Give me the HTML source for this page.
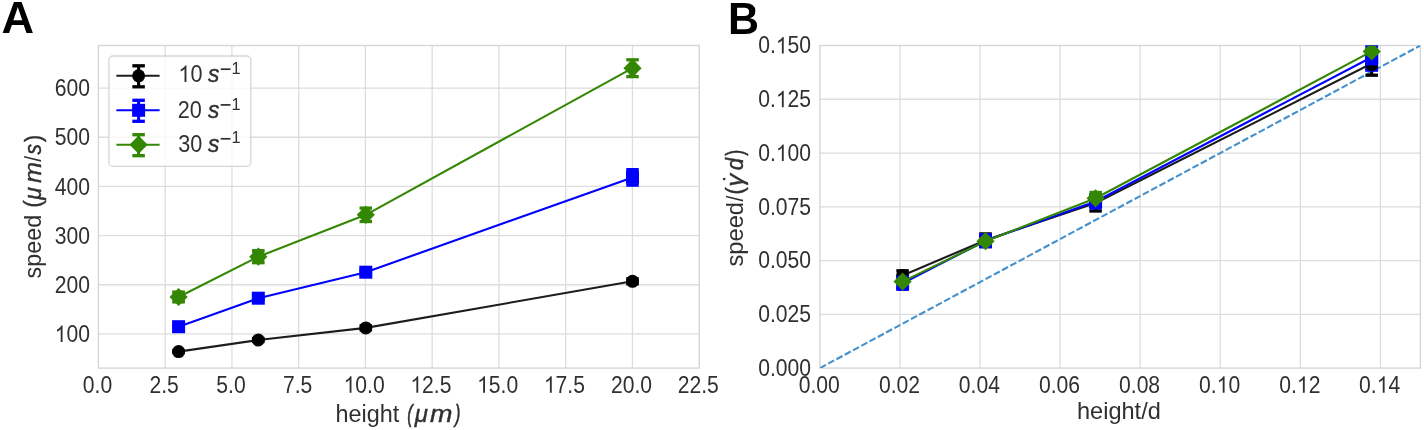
<!DOCTYPE html>
<html><head><meta charset="utf-8"><title>Figure</title>
<style>
html,body{margin:0;padding:0;background:#fff;}
body{width:1424px;height:430px;overflow:hidden;}
svg{display:block;font-family:"Liberation Sans",sans-serif;will-change:transform;}
</style></head><body>
<svg width="1424" height="430" viewBox="0 0 1424 430">
<rect width="1424" height="430" fill="#fff"/>
<defs><clipPath id="cb"><rect x="819.90" y="45.50" width="600.50" height="322.60"/></clipPath>
<clipPath id="ca"><rect x="98.40" y="45.50" width="600.80" height="322.60"/></clipPath></defs>
<line x1="165.16" y1="45.50" x2="165.16" y2="368.10" stroke="#dddddd" stroke-width="1.30" />
<line x1="231.91" y1="45.50" x2="231.91" y2="368.10" stroke="#dddddd" stroke-width="1.30" />
<line x1="298.67" y1="45.50" x2="298.67" y2="368.10" stroke="#dddddd" stroke-width="1.30" />
<line x1="365.42" y1="45.50" x2="365.42" y2="368.10" stroke="#dddddd" stroke-width="1.30" />
<line x1="432.18" y1="45.50" x2="432.18" y2="368.10" stroke="#dddddd" stroke-width="1.30" />
<line x1="498.93" y1="45.50" x2="498.93" y2="368.10" stroke="#dddddd" stroke-width="1.30" />
<line x1="565.69" y1="45.50" x2="565.69" y2="368.10" stroke="#dddddd" stroke-width="1.30" />
<line x1="632.44" y1="45.50" x2="632.44" y2="368.10" stroke="#dddddd" stroke-width="1.30" />
<line x1="98.40" y1="333.90" x2="699.20" y2="333.90" stroke="#dddddd" stroke-width="1.30" />
<line x1="98.40" y1="284.74" x2="699.20" y2="284.74" stroke="#dddddd" stroke-width="1.30" />
<line x1="98.40" y1="235.58" x2="699.20" y2="235.58" stroke="#dddddd" stroke-width="1.30" />
<line x1="98.40" y1="186.42" x2="699.20" y2="186.42" stroke="#dddddd" stroke-width="1.30" />
<line x1="98.40" y1="137.26" x2="699.20" y2="137.26" stroke="#dddddd" stroke-width="1.30" />
<line x1="98.40" y1="88.10" x2="699.20" y2="88.10" stroke="#dddddd" stroke-width="1.30" />
<rect x="98.40" y="45.50" width="600.80" height="322.60" fill="none" stroke="#d6d6d6" stroke-width="1.4"/>
<line x1="899.97" y1="45.50" x2="899.97" y2="368.10" stroke="#dddddd" stroke-width="1.30" />
<line x1="980.03" y1="45.50" x2="980.03" y2="368.10" stroke="#dddddd" stroke-width="1.30" />
<line x1="1060.10" y1="45.50" x2="1060.10" y2="368.10" stroke="#dddddd" stroke-width="1.30" />
<line x1="1140.17" y1="45.50" x2="1140.17" y2="368.10" stroke="#dddddd" stroke-width="1.30" />
<line x1="1220.23" y1="45.50" x2="1220.23" y2="368.10" stroke="#dddddd" stroke-width="1.30" />
<line x1="1300.30" y1="45.50" x2="1300.30" y2="368.10" stroke="#dddddd" stroke-width="1.30" />
<line x1="1380.37" y1="45.50" x2="1380.37" y2="368.10" stroke="#dddddd" stroke-width="1.30" />
<line x1="819.90" y1="314.33" x2="1420.40" y2="314.33" stroke="#dddddd" stroke-width="1.30" />
<line x1="819.90" y1="260.57" x2="1420.40" y2="260.57" stroke="#dddddd" stroke-width="1.30" />
<line x1="819.90" y1="206.80" x2="1420.40" y2="206.80" stroke="#dddddd" stroke-width="1.30" />
<line x1="819.90" y1="153.03" x2="1420.40" y2="153.03" stroke="#dddddd" stroke-width="1.30" />
<line x1="819.90" y1="99.27" x2="1420.40" y2="99.27" stroke="#dddddd" stroke-width="1.30" />
<rect x="819.90" y="45.50" width="600.50" height="322.60" fill="none" stroke="#d6d6d6" stroke-width="1.4"/>
<g transform="translate(82.82,392.70) scale(0.8800,1)" font-size="24.00px" fill="#303030">
<text x="0.00" y="0">0.0</text>
</g>
<g transform="translate(149.47,392.70) scale(0.8800,1)" font-size="24.00px" fill="#303030">
<text x="0.00" y="0">2.5</text>
</g>
<g transform="translate(216.33,392.70) scale(0.8800,1)" font-size="24.00px" fill="#303030">
<text x="0.00" y="0">5.0</text>
</g>
<g transform="translate(282.98,392.70) scale(0.8800,1)" font-size="24.00px" fill="#303030">
<text x="0.00" y="0">7.5</text>
</g>
<g transform="translate(343.61,392.70) scale(0.8800,1)" font-size="24.00px" fill="#303030">
<path transform="translate(0.00,0) scale(0.01172,-0.01120)" d="M763 0H583V1147Q518 1085 412.5 1023T223 930V1104Q375 1175.5 489 1277T650 1474H763Z"/>
<text x="13.35" y="0">0.0</text>
</g>
<g transform="translate(410.37,392.70) scale(0.8800,1)" font-size="24.00px" fill="#303030">
<path transform="translate(0.00,0) scale(0.01172,-0.01120)" d="M763 0H583V1147Q518 1085 412.5 1023T223 930V1104Q375 1175.5 489 1277T650 1474H763Z"/>
<text x="13.35" y="0">2.5</text>
</g>
<g transform="translate(477.12,392.70) scale(0.8800,1)" font-size="24.00px" fill="#303030">
<path transform="translate(0.00,0) scale(0.01172,-0.01120)" d="M763 0H583V1147Q518 1085 412.5 1023T223 930V1104Q375 1175.5 489 1277T650 1474H763Z"/>
<text x="13.35" y="0">5.0</text>
</g>
<g transform="translate(543.88,392.70) scale(0.8800,1)" font-size="24.00px" fill="#303030">
<path transform="translate(0.00,0) scale(0.01172,-0.01120)" d="M763 0H583V1147Q518 1085 412.5 1023T223 930V1104Q375 1175.5 489 1277T650 1474H763Z"/>
<text x="13.35" y="0">7.5</text>
</g>
<g transform="translate(610.90,392.70) scale(0.8800,1)" font-size="24.00px" fill="#303030">
<text x="0.00" y="0">20.0</text>
</g>
<g transform="translate(677.66,392.70) scale(0.8800,1)" font-size="24.00px" fill="#303030">
<text x="0.00" y="0">22.5</text>
</g>
<g transform="translate(54.68,342.10) scale(0.8800,1)" font-size="24.00px" fill="#303030">
<path transform="translate(0.00,0) scale(0.01172,-0.01120)" d="M763 0H583V1147Q518 1085 412.5 1023T223 930V1104Q375 1175.5 489 1277T650 1474H763Z"/>
<text x="13.35" y="0">00</text>
</g>
<g transform="translate(54.68,292.94) scale(0.8800,1)" font-size="24.00px" fill="#303030">
<text x="0.00" y="0">200</text>
</g>
<g transform="translate(54.68,243.78) scale(0.8800,1)" font-size="24.00px" fill="#303030">
<text x="0.00" y="0">300</text>
</g>
<g transform="translate(54.68,194.62) scale(0.8800,1)" font-size="24.00px" fill="#303030">
<text x="0.00" y="0">400</text>
</g>
<g transform="translate(54.68,145.46) scale(0.8800,1)" font-size="24.00px" fill="#303030">
<text x="0.00" y="0">500</text>
</g>
<g transform="translate(54.68,96.30) scale(0.8800,1)" font-size="24.00px" fill="#303030">
<text x="0.00" y="0">600</text>
</g>
<g transform="translate(798.76,392.70) scale(0.8800,1)" font-size="24.00px" fill="#303030">
<text x="0.00" y="0">0.00</text>
</g>
<g transform="translate(878.93,392.70) scale(0.8800,1)" font-size="24.00px" fill="#303030">
<text x="0.00" y="0">0.02</text>
</g>
<g transform="translate(958.79,392.70) scale(0.8800,1)" font-size="24.00px" fill="#303030">
<text x="0.00" y="0">0.04</text>
</g>
<g transform="translate(1039.01,392.70) scale(0.8800,1)" font-size="24.00px" fill="#303030">
<text x="0.00" y="0">0.06</text>
</g>
<g transform="translate(1119.03,392.70) scale(0.8800,1)" font-size="24.00px" fill="#303030">
<text x="0.00" y="0">0.08</text>
</g>
<g transform="translate(1199.09,392.70) scale(0.8800,1)" font-size="24.00px" fill="#303030">
<text x="0.00" y="0">0.</text>
<path transform="translate(20.02,0) scale(0.01172,-0.01120)" d="M763 0H583V1147Q518 1085 412.5 1023T223 930V1104Q375 1175.5 489 1277T650 1474H763Z"/>
<text x="33.36" y="0">0</text>
</g>
<g transform="translate(1279.27,392.70) scale(0.8800,1)" font-size="24.00px" fill="#303030">
<text x="0.00" y="0">0.</text>
<path transform="translate(20.02,0) scale(0.01172,-0.01120)" d="M763 0H583V1147Q518 1085 412.5 1023T223 930V1104Q375 1175.5 489 1277T650 1474H763Z"/>
<text x="33.36" y="0">2</text>
</g>
<g transform="translate(1359.12,392.70) scale(0.8800,1)" font-size="24.00px" fill="#303030">
<text x="0.00" y="0">0.</text>
<path transform="translate(20.02,0) scale(0.01172,-0.01120)" d="M763 0H583V1147Q518 1085 412.5 1023T223 930V1104Q375 1175.5 489 1277T650 1474H763Z"/>
<text x="33.36" y="0">4</text>
</g>
<g transform="translate(758.24,376.00) scale(0.8800,1)" font-size="24.00px" fill="#303030">
<text x="0.00" y="0">0.000</text>
</g>
<g transform="translate(758.24,322.23) scale(0.8800,1)" font-size="24.00px" fill="#303030">
<text x="0.00" y="0">0.025</text>
</g>
<g transform="translate(758.24,268.47) scale(0.8800,1)" font-size="24.00px" fill="#303030">
<text x="0.00" y="0">0.050</text>
</g>
<g transform="translate(758.24,214.70) scale(0.8800,1)" font-size="24.00px" fill="#303030">
<text x="0.00" y="0">0.075</text>
</g>
<g transform="translate(758.24,160.93) scale(0.8800,1)" font-size="24.00px" fill="#303030">
<text x="0.00" y="0">0.</text>
<path transform="translate(20.02,0) scale(0.01172,-0.01120)" d="M763 0H583V1147Q518 1085 412.5 1023T223 930V1104Q375 1175.5 489 1277T650 1474H763Z"/>
<text x="33.36" y="0">00</text>
</g>
<g transform="translate(758.24,107.17) scale(0.8800,1)" font-size="24.00px" fill="#303030">
<text x="0.00" y="0">0.</text>
<path transform="translate(20.02,0) scale(0.01172,-0.01120)" d="M763 0H583V1147Q518 1085 412.5 1023T223 930V1104Q375 1175.5 489 1277T650 1474H763Z"/>
<text x="33.36" y="0">25</text>
</g>
<g transform="translate(758.24,53.40) scale(0.8800,1)" font-size="24.00px" fill="#303030">
<text x="0.00" y="0">0.</text>
<path transform="translate(20.02,0) scale(0.01172,-0.01120)" d="M763 0H583V1147Q518 1085 412.5 1023T223 930V1104Q375 1175.5 489 1277T650 1474H763Z"/>
<text x="33.36" y="0">50</text>
</g>
<text transform="translate(335.46,421.70) scale(0.9916,1)" font-size="23.60px" fill="#303030">height</text>
<text transform="translate(407.27,421.70) scale(0.6673,1)" font-size="24.30px" fill="#303030" font-style="italic" stroke="#303030" stroke-width="0.60">(</text>
<text transform="translate(414.68,421.70) scale(1.0169,1)" font-size="23.60px" fill="#303030" font-style="italic" stroke="#303030" stroke-width="0.39">μ</text>
<text transform="translate(429.99,421.70) scale(1.1446,1)" font-size="23.60px" fill="#303030" font-style="italic" stroke="#303030" stroke-width="0.35">m</text>
<text transform="translate(454.94,421.70) scale(0.6673,1)" font-size="24.30px" fill="#303030" font-style="italic" stroke="#303030" stroke-width="0.60">)</text>
<text transform="translate(1076.95,419.40) scale(0.9984,1)" font-size="23.60px" fill="#303030">height/d</text>
<text transform="translate(40.50,278.40) rotate(-90) scale(0.9908,1)" font-size="23.60px" fill="#303030">speed</text>
<text transform="translate(40.50,207.49) rotate(-90) scale(0.8852,1)" font-size="24.30px" fill="#303030" stroke="#303030" stroke-width="0.45">(</text>
<text transform="translate(40.50,199.84) rotate(-90) scale(0.9707,1)" font-size="23.60px" fill="#303030" font-style="italic" stroke="#303030" stroke-width="0.41">μ</text>
<text transform="translate(40.50,182.88) rotate(-90) scale(1.0676,1)" font-size="23.60px" fill="#303030" font-style="italic" stroke="#303030" stroke-width="0.37">m</text>
<text transform="translate(40.50,161.80) rotate(-90) scale(0.8783,1)" font-size="23.60px" fill="#303030">/</text>
<text transform="translate(40.50,154.60) rotate(-90) scale(0.8831,1)" font-size="23.60px" fill="#303030" font-style="italic" stroke="#303030" stroke-width="0.45">s</text>
<text transform="translate(40.50,142.12) rotate(-90) scale(0.8864,1)" font-size="24.30px" fill="#303030" stroke="#303030" stroke-width="0.45">)</text>
<text transform="translate(742.60,266.51) rotate(-90) scale(1.0037,1)" font-size="23.60px" fill="#303030">speed</text>
<text transform="translate(742.60,201.50) rotate(-90) scale(0.8937,1)" font-size="23.60px" fill="#303030">/</text>
<text transform="translate(742.60,194.41) rotate(-90) scale(0.9007,1)" font-size="24.30px" fill="#303030" stroke="#303030" stroke-width="0.44">(</text>
<text transform="translate(742.60,186.71) rotate(-90) scale(1.0896,1)" font-size="23.60px" fill="#303030" font-style="italic" stroke="#303030" stroke-width="0.37">γ</text>
<text transform="translate(742.60,170.37) rotate(-90) scale(0.9330,1)" font-size="23.60px" fill="#303030" font-style="italic" stroke="#303030" stroke-width="0.43">d</text>
<text transform="translate(742.60,155.68) rotate(-90) scale(0.7439,1)" font-size="24.30px" fill="#303030" stroke="#303030" stroke-width="0.54">)</text>
<circle cx="724.2" cy="179.0" r="1.35" fill="#303030"/>
<text transform="translate(1.57,33.20) scale(1.0300,1)" font-size="43.80px" fill="#000" font-weight="bold">A</text>
<text transform="translate(728.01,33.50) scale(0.9800,1)" font-size="43.80px" fill="#000" font-weight="bold">B</text>
<path d="M178.60 351.60 L258.30 340.00 L365.80 327.90 L632.50 281.30" fill="none" stroke="#1c1c1c" stroke-width="2.10" stroke-linejoin="round"/>
<circle cx="178.60" cy="351.60" r="6.50" fill="#000000"/>
<line x1="178.60" y1="350.60" x2="178.60" y2="352.60" stroke="#000000" stroke-width="3.10" />
<rect x="172.35" y="348.95" width="12.50" height="3.30" fill="#000000"/>
<rect x="172.35" y="350.95" width="12.50" height="3.30" fill="#000000"/>
<circle cx="258.30" cy="340.00" r="6.50" fill="#000000"/>
<line x1="258.30" y1="338.50" x2="258.30" y2="341.50" stroke="#000000" stroke-width="3.10" />
<rect x="252.05" y="336.85" width="12.50" height="3.30" fill="#000000"/>
<rect x="252.05" y="339.85" width="12.50" height="3.30" fill="#000000"/>
<circle cx="365.80" cy="327.90" r="6.50" fill="#000000"/>
<line x1="365.80" y1="325.90" x2="365.80" y2="329.90" stroke="#000000" stroke-width="3.10" />
<rect x="359.55" y="324.25" width="12.50" height="3.30" fill="#000000"/>
<rect x="359.55" y="328.25" width="12.50" height="3.30" fill="#000000"/>
<circle cx="632.50" cy="281.30" r="6.50" fill="#000000"/>
<line x1="632.50" y1="278.80" x2="632.50" y2="283.80" stroke="#000000" stroke-width="3.10" />
<rect x="626.25" y="277.15" width="12.50" height="3.30" fill="#000000"/>
<rect x="626.25" y="282.15" width="12.50" height="3.30" fill="#000000"/>
<path d="M178.60 326.70 L258.30 298.20 L365.80 272.20 L632.50 177.40" fill="none" stroke="#0000ff" stroke-width="2.10" stroke-linejoin="round"/>
<rect x="172.10" y="320.20" width="13.00" height="13.00" fill="#0000ff"/>
<line x1="178.60" y1="326.20" x2="178.60" y2="327.20" stroke="#0000ff" stroke-width="3.10" />
<rect x="172.35" y="324.55" width="12.50" height="3.30" fill="#0000ff"/>
<rect x="172.35" y="325.55" width="12.50" height="3.30" fill="#0000ff"/>
<rect x="251.80" y="291.70" width="13.00" height="13.00" fill="#0000ff"/>
<line x1="258.30" y1="297.20" x2="258.30" y2="299.20" stroke="#0000ff" stroke-width="3.10" />
<rect x="252.05" y="295.55" width="12.50" height="3.30" fill="#0000ff"/>
<rect x="252.05" y="297.55" width="12.50" height="3.30" fill="#0000ff"/>
<rect x="359.30" y="265.70" width="13.00" height="13.00" fill="#0000ff"/>
<line x1="365.80" y1="270.20" x2="365.80" y2="274.20" stroke="#0000ff" stroke-width="3.10" />
<rect x="359.55" y="268.55" width="12.50" height="3.30" fill="#0000ff"/>
<rect x="359.55" y="272.55" width="12.50" height="3.30" fill="#0000ff"/>
<rect x="626.00" y="170.90" width="13.00" height="13.00" fill="#0000ff"/>
<line x1="632.50" y1="169.65" x2="632.50" y2="185.15" stroke="#0000ff" stroke-width="3.10" />
<rect x="626.25" y="168.00" width="12.50" height="3.30" fill="#0000ff"/>
<rect x="626.25" y="183.50" width="12.50" height="3.30" fill="#0000ff"/>
<path d="M178.60 297.00 L258.30 256.70 L365.80 214.80 L632.50 68.20" fill="none" stroke="#338703" stroke-width="2.10" stroke-linejoin="round"/>
<path d="M169.49 297.00 L178.60 287.89 L187.71 297.00 L178.60 306.11 Z" fill="#338703"/>
<line x1="178.60" y1="292.20" x2="178.60" y2="301.80" stroke="#338703" stroke-width="3.10" />
<rect x="172.35" y="290.55" width="12.50" height="3.30" fill="#338703"/>
<rect x="172.35" y="300.15" width="12.50" height="3.30" fill="#338703"/>
<line x1="174.30" y1="297.00" x2="182.90" y2="297.00" stroke="#338703" stroke-width="3.10" />
<rect x="172.65" y="290.75" width="3.30" height="12.50" fill="#338703"/>
<rect x="181.25" y="290.75" width="3.30" height="12.50" fill="#338703"/>
<path d="M249.19 256.70 L258.30 247.59 L267.41 256.70 L258.30 265.81 Z" fill="#338703"/>
<line x1="258.30" y1="250.70" x2="258.30" y2="262.70" stroke="#338703" stroke-width="3.10" />
<rect x="252.05" y="249.05" width="12.50" height="3.30" fill="#338703"/>
<rect x="252.05" y="261.05" width="12.50" height="3.30" fill="#338703"/>
<line x1="254.00" y1="256.70" x2="262.60" y2="256.70" stroke="#338703" stroke-width="3.10" />
<rect x="252.35" y="250.45" width="3.30" height="12.50" fill="#338703"/>
<rect x="260.95" y="250.45" width="3.30" height="12.50" fill="#338703"/>
<path d="M356.69 214.80 L365.80 205.69 L374.91 214.80 L365.80 223.91 Z" fill="#338703"/>
<line x1="365.80" y1="208.10" x2="365.80" y2="221.50" stroke="#338703" stroke-width="3.10" />
<rect x="359.55" y="206.45" width="12.50" height="3.30" fill="#338703"/>
<rect x="359.55" y="219.85" width="12.50" height="3.30" fill="#338703"/>
<line x1="363.80" y1="214.80" x2="367.80" y2="214.80" stroke="#338703" stroke-width="3.10" />
<rect x="362.15" y="208.55" width="3.30" height="12.50" fill="#338703"/>
<rect x="366.15" y="208.55" width="3.30" height="12.50" fill="#338703"/>
<path d="M623.39 68.20 L632.50 59.09 L641.61 68.20 L632.50 77.31 Z" fill="#338703"/>
<line x1="632.50" y1="59.80" x2="632.50" y2="76.60" stroke="#338703" stroke-width="3.10" />
<rect x="626.25" y="58.15" width="12.50" height="3.30" fill="#338703"/>
<rect x="626.25" y="74.95" width="12.50" height="3.30" fill="#338703"/>
<line x1="630.50" y1="68.20" x2="634.50" y2="68.20" stroke="#338703" stroke-width="3.10" />
<rect x="628.85" y="61.95" width="3.30" height="12.50" fill="#338703"/>
<rect x="632.85" y="61.95" width="3.30" height="12.50" fill="#338703"/>
<line x1="819.90" y1="368.10" x2="1420.40" y2="45.50" stroke="#4490cb" stroke-width="2.1" stroke-dasharray="6.8 2.6" clip-path="url(#cb)"/>
<g clip-path="url(#cb)">
<path d="M902.60 275.50 L985.50 240.20 L1095.60 203.00 L1371.70 63.50" fill="none" stroke="#1c1c1c" stroke-width="2.10" stroke-linejoin="round"/>
<circle cx="902.60" cy="275.50" r="6.50" fill="#000000"/>
<line x1="902.60" y1="270.80" x2="902.60" y2="280.20" stroke="#000000" stroke-width="3.10" />
<rect x="896.35" y="269.15" width="12.50" height="3.30" fill="#000000"/>
<rect x="896.35" y="278.55" width="12.50" height="3.30" fill="#000000"/>
<circle cx="985.50" cy="240.20" r="6.50" fill="#000000"/>
<line x1="985.50" y1="233.90" x2="985.50" y2="246.50" stroke="#000000" stroke-width="3.10" />
<rect x="979.25" y="232.25" width="12.50" height="3.30" fill="#000000"/>
<rect x="979.25" y="244.85" width="12.50" height="3.30" fill="#000000"/>
<circle cx="1095.60" cy="203.00" r="6.50" fill="#000000"/>
<line x1="1095.60" y1="195.00" x2="1095.60" y2="211.00" stroke="#000000" stroke-width="3.10" />
<rect x="1089.35" y="193.35" width="12.50" height="3.30" fill="#000000"/>
<rect x="1089.35" y="209.35" width="12.50" height="3.30" fill="#000000"/>
<circle cx="1371.70" cy="63.50" r="6.50" fill="#000000"/>
<line x1="1371.70" y1="51.80" x2="1371.70" y2="75.20" stroke="#000000" stroke-width="3.10" />
<rect x="1365.45" y="50.15" width="12.50" height="3.30" fill="#000000"/>
<rect x="1365.45" y="73.55" width="12.50" height="3.30" fill="#000000"/>
</g>
<g clip-path="url(#cb)">
<path d="M902.60 283.30 L985.50 240.70 L1095.60 201.50 L1371.70 57.20" fill="none" stroke="#0000ff" stroke-width="2.10" stroke-linejoin="round"/>
<rect x="896.10" y="276.80" width="13.00" height="13.00" fill="#0000ff"/>
<line x1="902.60" y1="277.30" x2="902.60" y2="289.30" stroke="#0000ff" stroke-width="3.10" />
<rect x="896.35" y="275.65" width="12.50" height="3.30" fill="#0000ff"/>
<rect x="896.35" y="287.65" width="12.50" height="3.30" fill="#0000ff"/>
<rect x="979.00" y="234.20" width="13.00" height="13.00" fill="#0000ff"/>
<line x1="985.50" y1="234.65" x2="985.50" y2="246.75" stroke="#0000ff" stroke-width="3.10" />
<rect x="979.25" y="233.00" width="12.50" height="3.30" fill="#0000ff"/>
<rect x="979.25" y="245.10" width="12.50" height="3.30" fill="#0000ff"/>
<rect x="1089.10" y="195.00" width="13.00" height="13.00" fill="#0000ff"/>
<line x1="1095.60" y1="195.00" x2="1095.60" y2="208.00" stroke="#0000ff" stroke-width="3.10" />
<rect x="1089.35" y="193.35" width="12.50" height="3.30" fill="#0000ff"/>
<rect x="1089.35" y="206.35" width="12.50" height="3.30" fill="#0000ff"/>
<rect x="1365.20" y="50.70" width="13.00" height="13.00" fill="#0000ff"/>
<line x1="1371.70" y1="44.45" x2="1371.70" y2="69.95" stroke="#0000ff" stroke-width="3.10" />
<rect x="1365.45" y="42.80" width="12.50" height="3.30" fill="#0000ff"/>
<rect x="1365.45" y="68.30" width="12.50" height="3.30" fill="#0000ff"/>
</g>
<g clip-path="url(#cb)"><rect x="1365.25" y="45" width="12.9" height="26.6" fill="#0000ff"/>
<path d="M1365.30 65.4 L1378.10 65.4 A6.45 6.45 0 0 1 1365.30 65.4 Z" fill="#000"/></g>
<g clip-path="url(#cb)">
<path d="M902.60 281.60 L985.50 241.20 L1095.60 198.30 L1371.70 51.40" fill="none" stroke="#338703" stroke-width="2.10" stroke-linejoin="round"/>
<path d="M893.49 281.60 L902.60 272.49 L911.71 281.60 L902.60 290.71 Z" fill="#338703"/>
<line x1="902.60" y1="279.60" x2="902.60" y2="283.60" stroke="#338703" stroke-width="3.10" />
<rect x="896.35" y="277.95" width="12.50" height="3.30" fill="#338703"/>
<rect x="896.35" y="281.95" width="12.50" height="3.30" fill="#338703"/>
<path d="M976.39 241.20 L985.50 232.09 L994.61 241.20 L985.50 250.31 Z" fill="#338703"/>
<line x1="985.50" y1="239.20" x2="985.50" y2="243.20" stroke="#338703" stroke-width="3.10" />
<rect x="979.25" y="237.55" width="12.50" height="3.30" fill="#338703"/>
<rect x="979.25" y="241.55" width="12.50" height="3.30" fill="#338703"/>
<path d="M1086.49 198.30 L1095.60 189.19 L1104.71 198.30 L1095.60 207.41 Z" fill="#338703"/>
<line x1="1095.60" y1="196.30" x2="1095.60" y2="200.30" stroke="#338703" stroke-width="3.10" />
<rect x="1089.35" y="194.65" width="12.50" height="3.30" fill="#338703"/>
<rect x="1089.35" y="198.65" width="12.50" height="3.30" fill="#338703"/>
<path d="M1362.59 51.40 L1371.70 42.29 L1380.81 51.40 L1371.70 60.51 Z" fill="#338703"/>
<line x1="1371.70" y1="49.40" x2="1371.70" y2="53.40" stroke="#338703" stroke-width="3.10" />
<rect x="1365.45" y="47.75" width="12.50" height="3.30" fill="#338703"/>
<rect x="1365.45" y="51.75" width="12.50" height="3.30" fill="#338703"/>
</g>
<rect x="1089.5" y="190.8" width="12.4" height="7.5" fill="#338703"/>
<rect x="108.90" y="56.00" width="141.90" height="110.30" rx="4" ry="4" fill="#ffffff" fill-opacity="0.8" stroke="#cccccc" stroke-opacity="0.8" stroke-width="1.3"/>
<line x1="116.40" y1="75.80" x2="159.60" y2="75.80" stroke="#1c1c1c" stroke-width="2.10" />
<line x1="138.60" y1="65.80" x2="138.60" y2="86.80" stroke="#000000" stroke-width="3.10" />
<rect x="132.35" y="64.15" width="12.50" height="3.30" fill="#000000"/>
<rect x="132.35" y="85.15" width="12.50" height="3.30" fill="#000000"/>
<circle cx="138.60" cy="75.80" r="6.50" fill="#000000"/>
<g transform="translate(178.38,81.90) scale(0.9000,1)" font-size="24.00px" fill="#303030">
<path transform="translate(0.00,0) scale(0.01172,-0.01120)" d="M763 0H583V1147Q518 1085 412.5 1023T223 930V1104Q375 1175.5 489 1277T650 1474H763Z"/>
<text x="13.35" y="0">0</text>
</g>
<text transform="translate(207.89,82.10) scale(0.9886,1)" font-size="23.00px" fill="#303030" font-style="italic" stroke="#303030" stroke-width="0.40">s</text>
<rect x="220.7" y="68.35" width="9.8" height="1.7" fill="#303030"/>
<text transform="translate(231.38,73.80) scale(1.0000,1)" font-size="16.30px" fill="#303030">1</text>
<line x1="116.40" y1="110.30" x2="159.60" y2="110.30" stroke="#0000ff" stroke-width="2.10" />
<line x1="138.60" y1="100.30" x2="138.60" y2="121.30" stroke="#0000ff" stroke-width="3.10" />
<rect x="132.35" y="98.65" width="12.50" height="3.30" fill="#0000ff"/>
<rect x="132.35" y="119.65" width="12.50" height="3.30" fill="#0000ff"/>
<rect x="132.10" y="103.80" width="13.00" height="13.00" fill="#0000ff"/>
<g transform="translate(177.82,117.60) scale(0.9000,1)" font-size="24.00px" fill="#303030">
<text x="0.00" y="0">20</text>
</g>
<text transform="translate(207.89,117.80) scale(0.9886,1)" font-size="23.00px" fill="#303030" font-style="italic" stroke="#303030" stroke-width="0.40">s</text>
<rect x="220.7" y="104.05" width="9.8" height="1.7" fill="#303030"/>
<text transform="translate(231.38,109.50) scale(1.0000,1)" font-size="16.30px" fill="#303030">1</text>
<line x1="116.40" y1="144.70" x2="159.60" y2="144.70" stroke="#338703" stroke-width="2.10" />
<line x1="138.60" y1="134.70" x2="138.60" y2="155.70" stroke="#338703" stroke-width="3.10" />
<rect x="132.35" y="133.05" width="12.50" height="3.30" fill="#338703"/>
<rect x="132.35" y="154.05" width="12.50" height="3.30" fill="#338703"/>
<path d="M129.49 144.70 L138.60 135.59 L147.71 144.70 L138.60 153.81 Z" fill="#338703"/>
<g transform="translate(178.14,151.50) scale(0.9000,1)" font-size="24.00px" fill="#303030">
<text x="0.00" y="0">30</text>
</g>
<text transform="translate(207.89,151.70) scale(0.9886,1)" font-size="23.00px" fill="#303030" font-style="italic" stroke="#303030" stroke-width="0.40">s</text>
<rect x="220.7" y="137.95" width="9.8" height="1.7" fill="#303030"/>
<text transform="translate(231.38,143.40) scale(1.0000,1)" font-size="16.30px" fill="#303030">1</text>
</svg>
</body></html>
